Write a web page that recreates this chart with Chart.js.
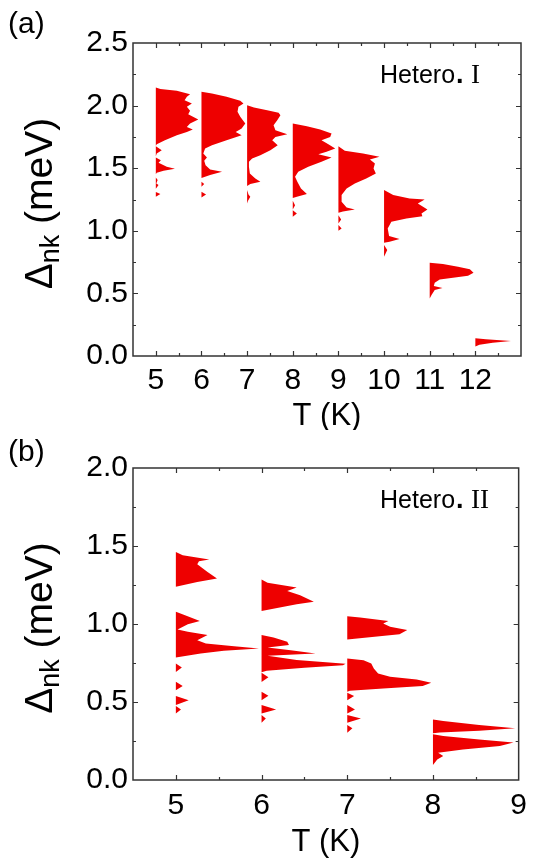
<!DOCTYPE html>
<html>
<head>
<meta charset="utf-8">
<script src="https://cdn.jsdelivr.net/npm/chart.js@4.4.1/dist/chart.umd.min.js"></script>
<style>
  html, body { margin: 0; padding: 0; background: #fff; }
  .panel { position: absolute; left: 0; width: 535px; }
  #pa { top: 0; height: 430px; }
  #pb { top: 430px; height: 429px; }
</style>
</head>
<body>
<div class="panel" id="pa"><canvas id="chartA"></canvas></div>
<div class="panel" id="pb"><canvas id="chartB"></canvas></div>
<script>
// panel (a): Hetero. I  -- each profile is [delta (meV), width (K)] from top to bottom
var tempsA = [5, 6, 7, 8, 9, 10, 11, 12];
var xTicksA = [5, 6, 7, 8, 9, 10, 11, 12];
var yTicksA = [0, 0.5, 1.0, 1.5, 2.0, 2.5];

var a5 = [[2.144,0],[2.133,0.10],[2.118,0.46],[2.091,0.75],[2.070,0.68],[2.043,0.63],[2.016,0.79],[1.990,0.68],[1.958,0.75],[1.931,0.71],[1.889,0.93],[1.857,0.75],[1.830,0.68],[1.809,0.81],[1.790,0.68],[1.764,0.46],[1.724,0.20],[1.692,0.02],[1.680,0],
  [1.676,0],[1.644,0.13],[1.617,0.02],[1.596,0],
  [1.585,0],[1.564,0.11],[1.543,0.06],[1.511,0.24],[1.495,0.42],[1.479,0.17],[1.463,0.02],[1.452,0],
  [1.426,0],[1.405,0.04],[1.378,0.01],[1.365,0.06],[1.335,0],
  [1.309,0],[1.293,0.10],[1.272,0]];
var a6 = [[2.110,0],[2.096,0.23],[2.070,0.55],[2.038,0.85],[2.016,0.92],[1.990,0.81],[1.950,0.79],[1.910,0.85],[1.857,0.96],[1.817,0.88],[1.790,0.75],[1.764,0.88],[1.724,0.55],[1.684,0.23],[1.657,0.08],[1.617,0.04],[1.586,0.12],[1.559,0.06],[1.524,0.09],[1.490,0.19],[1.471,0.45],[1.445,0.19],[1.421,0],
  [1.391,0],[1.373,0.06],[1.351,0],
  [1.311,0],[1.290,0.10],[1.266,0]];
var a7 = [[2.003,0],[1.985,0.15],[1.963,0.44],[1.942,0.69],[1.923,0.73],[1.883,0.66],[1.844,0.58],[1.804,0.62],[1.772,0.88],[1.750,0.62],[1.724,0.55],[1.684,0.67],[1.644,0.51],[1.604,0.29],[1.578,0.11],[1.551,0.04],[1.511,0.04],[1.458,0.06],[1.418,0.18],[1.391,0.29],[1.373,0.07],[1.357,0],
  [1.325,0],[1.290,0.03],[1.272,0.07],[1.240,0.02],[1.218,0]];
var a8 = [[1.857,0],[1.836,0.31],[1.809,0.60],[1.777,0.85],[1.750,0.82],[1.724,0.63],[1.692,0.78],[1.657,0.93],[1.631,0.74],[1.612,0.56],[1.585,0.85],[1.551,0.63],[1.511,0.34],[1.471,0.12],[1.431,0.05],[1.391,0.10],[1.338,0.18],[1.293,0.31],[1.272,0.09],[1.261,0],
  [1.240,0],[1.205,0.05],[1.170,0],
  [1.165,0],[1.139,0.09],[1.112,0]];
var a9 = [[1.676,0],[1.639,0.14],[1.618,0.54],[1.591,0.90],[1.570,0.69],[1.538,0.80],[1.498,0.77],[1.458,0.82],[1.418,0.61],[1.378,0.36],[1.338,0.18],[1.285,0.07],[1.232,0.07],[1.187,0.18],[1.171,0.36],[1.155,0.10],[1.144,0],
  [1.125,0],[1.091,0.06],[1.059,0],
  [1.046,0],[1.019,0.07],[1.000,0]];
var a10 = [[1.325,0],[1.285,0.20],[1.258,0.56],[1.250,0.89],[1.218,0.74],[1.171,0.95],[1.139,0.82],[1.117,0.84],[1.099,0.49],[1.072,0.16],[1.019,0.08],[0.958,0.11],[0.934,0.34],[0.913,0.12],[0.905,0],
  [0.886,0],[0.846,0.07],[0.793,0]];
var a11 = [[0.745,0],[0.734,0.29],[0.713,0.62],[0.692,0.88],[0.665,0.96],[0.641,0.84],[0.625,0.51],[0.612,0.22],[0.585,0.11],[0.559,0.09],[0.543,0.28],[0.527,0.11],[0.487,0.04],[0.460,0]];
var a12 = [[0.141,0],[0.133,0.23],[0.120,0.78],[0.106,0.38],[0.090,0.09],[0.075,0]];
var profilesA = [a5, a6, a7, a8, a9, a10, a11, a12];

// panel (b): Hetero. II
var tempsB = [5, 6, 7, 8];
var xTicksB = [5, 6, 7, 8, 9];
var yTicksB = [0, 0.5, 1.0, 1.5, 2.0];

var b5 = [[1.462,0],[1.441,0.08],[1.413,0.39],[1.402,0.27],[1.383,0.25],[1.334,0.37],[1.291,0.48],[1.270,0.25],[1.238,0],
  [1.078,0],[1.057,0.10],[1.020,0.28],[0.999,0.14],[0.965,0.02],[0.950,0.14],[0.929,0.37],[0.896,0.25],[0.875,0.35],[0.858,0.68],[0.843,0.97],[0.828,0.56],[0.811,0.29],[0.785,0],
  [0.747,0],[0.721,0.07],[0.693,0],
  [0.630,0],[0.602,0.08],[0.576,0],
  [0.538,0],[0.512,0.15],[0.480,0],
  [0.474,0],[0.452,0.06],[0.427,0]];
var b6 = [[1.285,0],[1.264,0.07],[1.234,0.41],[1.212,0.30],[1.185,0.45],[1.142,0.61],[1.127,0.41],[1.084,0],
  [0.929,0],[0.914,0.14],[0.886,0.30],[0.865,0.32],[0.850,0.07],[0.832,0.34],[0.811,0.63],[0.796,0.07],[0.769,0.41],[0.745,0.98],[0.735,0.95],[0.720,0.50],[0.700,0.06],[0.690,0],
  [0.688,0],[0.658,0.08],[0.628,0],
  [0.566,0],[0.540,0.08],[0.512,0],
  [0.480,0],[0.452,0.17],[0.427,0],
  [0.416,0],[0.395,0.05],[0.367,0]];
var b7 = [[1.050,0],[1.042,0.15],[1.020,0.48],[1.003,0.42],[0.982,0.50],[0.961,0.70],[0.935,0.61],[0.901,0],
  [0.779,0],[0.768,0.19],[0.747,0.28],[0.715,0.31],[0.683,0.36],[0.662,0.50],[0.645,0.81],[0.623,0.98],[0.602,0.88],[0.587,0.42],[0.572,0.03],[0.566,0],
  [0.559,0],[0.538,0.08],[0.512,0],
  [0.480,0],[0.452,0.09],[0.427,0],
  [0.416,0],[0.395,0.16],[0.367,0],
  [0.352,0],[0.331,0.06],[0.303,0]];
var b8 = [[0.388,0],[0.378,0.12],[0.352,0.54],[0.331,0.96],[0.316,0.54],[0.305,0.08],[0.299,0],
  [0.294,0],[0.282,0.12],[0.260,0.54],[0.241,0.94],[0.218,0.78],[0.196,0.35],[0.175,0.06],[0.154,0.12],[0.132,0.05],[0.096,0]];
var profilesB = [b5, b6, b7, b8];

var RED = "rgb(238,0,0)";
var SANS = "'Liberation Sans', Arial, sans-serif";
var SERIF = "'Liberation Serif', 'Times New Roman', serif";

function shapeDatasets(temps, profiles) {
  return temps.map(function (t, i) {
    return {
      data: profiles[i].map(function (p) { return { x: t + p[1], y: p[0] }; }),
      fill: "shape",
      backgroundColor: RED,
      borderColor: "rgba(0,0,0,0)",
      borderWidth: 0,
      pointRadius: 0,
      tension: 0,
    };
  });
}

// frame, inward ticks and the extra texts
var framePlugin = {
  id: "frame",
  afterDatasetsDraw: function (chart, args, o) {
    var ctx = chart.ctx, a = chart.chartArea;
    var xs = chart.scales.x, ys = chart.scales.y;
    ctx.save();
    ctx.strokeStyle = "#333";
    ctx.lineWidth = 1.5;
    ctx.strokeRect(a.left, a.top, a.right - a.left, a.bottom - a.top);
    ctx.lineWidth = 1.2;
    ctx.beginPath();
    for (var v = o.xMin + o.xStep; v < o.xMax - 1e-6; v += o.xStep) {
      var len = Math.abs(v - Math.round(v)) < 1e-6 ? 5 : 3;
      var px = Math.round(xs.getPixelForValue(v)) + 0.5;
      ctx.moveTo(px, a.bottom); ctx.lineTo(px, a.bottom - len);
      ctx.moveTo(px, a.top); ctx.lineTo(px, a.top + len);
    }
    for (var w = o.yStep; w < o.yMax - 1e-6; w += o.yStep) {
      var major = Math.abs(w * 2 - Math.round(w * 2)) < 1e-6;
      var l2 = major ? 5 : 3;
      var py = Math.round(ys.getPixelForValue(w)) + 0.5;
      ctx.moveTo(a.left, py); ctx.lineTo(a.left + l2, py);
      ctx.moveTo(a.right, py); ctx.lineTo(a.right - l2, py);
    }
    ctx.stroke();

    ctx.fillStyle = "#000";
    ctx.textBaseline = "alphabetic";
    // panel letter
    ctx.font = "30px " + SANS;
    ctx.textAlign = "left";
    ctx.fillText(o.letter, 8, o.letterY);
    // sample label
    ctx.font = "25px " + SANS;
    ctx.fillText("Hetero", o.hx, o.hy);
    var hw = ctx.measureText("Hetero").width;
    ctx.font = "bold 27px " + SANS;
    ctx.fillText(".", o.hx + hw + 1, o.hy);
    ctx.font = "27px " + SERIF;
    ctx.fillText(o.numeral, o.hx + hw + 16, o.hy);
    // x title
    ctx.font = "31px " + SANS;
    ctx.textAlign = "center";
    ctx.fillText("T (K)", (a.left + a.right) / 2, o.xTitleY);
    // y title with subscript, rotated
    ctx.save();
    ctx.translate(o.yTitleX, (a.top + a.bottom) / 2 + o.yTitleShift);
    ctx.rotate(-Math.PI / 2);
    ctx.textAlign = "left";
    var big = "39px " + SANS, small = "27px " + SANS;
    ctx.font = big;
    var w1 = ctx.measureText("\u0394").width, w3 = ctx.measureText(" (meV)").width;
    ctx.font = small;
    var w2 = ctx.measureText("nk").width;
    var x0 = -(w1 + w2 + w3) / 2;
    ctx.font = big;
    ctx.fillText("\u0394", x0, 0);
    ctx.font = small;
    ctx.fillText("nk", x0 + w1, 7);
    ctx.font = big;
    ctx.fillText(" (meV)", x0 + w1 + w2, 0);
    ctx.restore();
    ctx.restore();
  },
};

function makePanel(id, temps, profiles, xTicks, yTicks, p) {
  return new Chart(document.getElementById(id), {
    type: "line",
    data: { datasets: shapeDatasets(temps, profiles) },
    options: {
      responsive: true,
      maintainAspectRatio: false,
      animation: false,
      devicePixelRatio: 1,
      layout: { padding: { top: p.top, right: p.right, left: 0, bottom: 0 } },
      plugins: {
        legend: { display: false },
        tooltip: { enabled: false },
        frame: p,
      },
      scales: {
        x: {
          type: "linear",
          min: p.xMin,
          max: p.xMax,
          grid: { display: false, drawTicks: false },
          border: { display: false },
          ticks: {
            color: "#000",
            padding: p.xPad,
            font: { family: SANS, size: 30 },
            callback: function (v) { return String(v); },
          },
          afterBuildTicks: function (s) { s.ticks = xTicks.map(function (v) { return { value: v }; }); },
          afterFit: function (s) { s.height = p.xHeight; },
        },
        y: {
          type: "linear",
          min: 0,
          max: p.yMax,
          grid: { display: false, drawTicks: false },
          border: { display: false },
          ticks: {
            color: "#000",
            padding: 5,
            font: { family: SANS, size: 30 },
            callback: function (v) { return Number(v).toFixed(1); },
          },
          afterBuildTicks: function (s) { s.ticks = yTicks.map(function (v) { return { value: v }; }); },
          afterFit: function (s) { s.width = 133; },
        },
      },
    },
    plugins: [framePlugin],
  });
}

makePanel("chartA", tempsA, profilesA, xTicksA, yTicksA, {
  top: 43, right: 14, xHeight: 74, xPad: 7, xMin: 4.5, xMax: 13, xStep: 0.5, yMax: 2.5, yStep: 0.25,
  letter: "(a)", letterY: 33, numeral: "I", hx: 380, hy: 83, xTitleY: 425, yTitleX: 52, yTitleShift: 4,
});
makePanel("chartB", tempsB, profilesB, xTicksB, yTicksB, {
  top: 38, right: 15, xHeight: 79, xPad: 8, xMin: 4.5, xMax: 9, xStep: 0.5, yMax: 2.0, yStep: 0.25,
  letter: "(b)", letterY: 31, numeral: "II", hx: 380, hy: 78, xTitleY: 421, yTitleX: 52, yTitleShift: 4,
});
</script>
</body>
</html>
